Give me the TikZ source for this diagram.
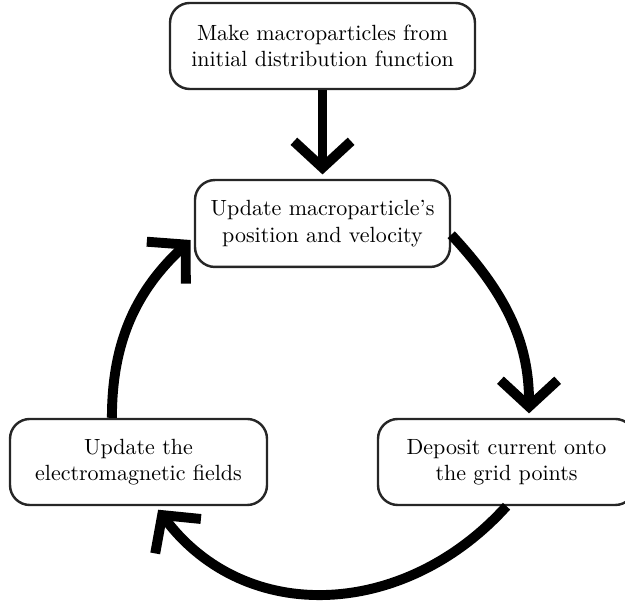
\documentclass[tikz,border=0pt]{standalone}
\usetikzlibrary{arrows.meta}
\begin{document}
\begin{tikzpicture}[x=0.4545pt,y=0.4545pt,
  box/.style={draw=black!85, line width=1.1pt, rounded corners=9pt, align=center,
    minimum width=116.8pt, minimum height=39.1pt, inner sep=0pt, fill=white},
  flow/.style={line width=4.5pt, -{Straight Barb[sharp,length=12pt,width=26pt]}, shorten >=2pt}]
\useasboundingbox (0,0) rectangle (625,601);
\node[box, minimum width=138.6pt] (init) at (322.5,555) {Make macroparticles from\\initial distribution function};
\node[box, minimum width=115.9pt, minimum height=39.5pt] (mid) at (322.5,377.5) {Update macroparticle's\\position and velocity};
\node[box] (upd) at (138.5,139) {Update the\\electromagnetic fields};
\node[box] (dep) at (506.5,139) {Deposit current onto\\the grid points};
\draw[flow] (init) -- (mid);
\draw[flow] (mid.-5) to[out=-47,in=90] (dep.63);
\draw[flow] (dep.south) to[out=228,in=-53,looseness=1.1] (upd.-69);
\draw[flow] (upd.121) to[out=90,in=223] (mid.186);
\end{tikzpicture}
\end{document}
